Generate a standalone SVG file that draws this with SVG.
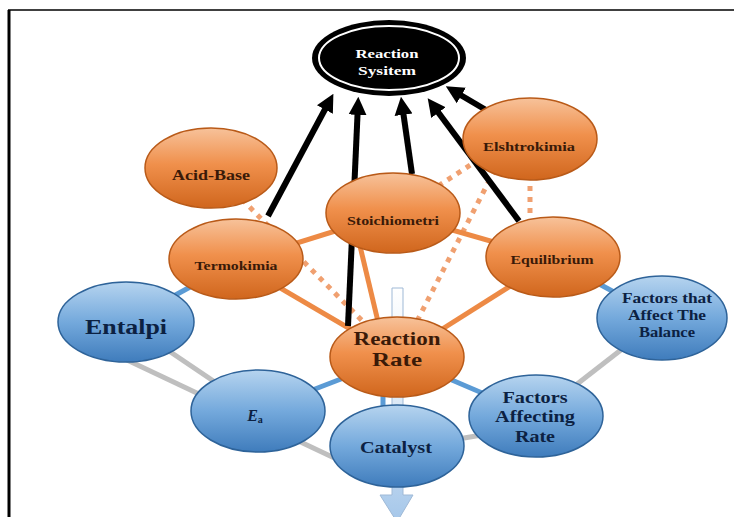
<svg xmlns="http://www.w3.org/2000/svg" width="734" height="517" viewBox="0 0 734 517">
<defs>
  <linearGradient id="og" x1="0" y1="0" x2="0" y2="1">
    <stop offset="0" stop-color="#f7c29a"/>
    <stop offset="0.45" stop-color="#f0904c"/>
    <stop offset="1" stop-color="#d0661d"/>
  </linearGradient>
  <linearGradient id="bg" x1="0" y1="0" x2="0" y2="1">
    <stop offset="0" stop-color="#b6d4ef"/>
    <stop offset="0.5" stop-color="#74a9dc"/>
    <stop offset="1" stop-color="#3f7cbc"/>
  </linearGradient>
  <linearGradient id="ag" gradientUnits="userSpaceOnUse" x1="0" y1="288" x2="0" y2="517">
    <stop offset="0" stop-color="#ffffff"/>
    <stop offset="0.5" stop-color="#dce9f6"/>
    <stop offset="1" stop-color="#a7c8ea"/>
  </linearGradient>
  <marker id="ah" viewBox="0 0 10 10" refX="6" refY="5" markerUnits="userSpaceOnUse" markerWidth="18" markerHeight="20" orient="auto">
    <path d="M0,0 L10,5 L0,10 z" fill="#000"/>
  </marker>
  <style>
    .o ellipse{fill:url(#og);stroke:#b95a18;stroke-width:1.5}
    .b ellipse{fill:url(#bg);stroke:#2e6399;stroke-width:1.5}
    text{font-family:"Liberation Serif","Times New Roman",serif;font-weight:bold;text-anchor:middle}
    .o text{fill:#3a1a08}
    .b text{fill:#0c2142}
    .so{stroke:#ed8a45;stroke-width:5;fill:none}
    .do{stroke:#f0a070;stroke-width:5;stroke-dasharray:5 6;fill:none}
    .bl{stroke:#5b9bd5;stroke-width:5;fill:none}
    .gr{stroke:#bfbfbf;stroke-width:5;fill:none}
    .bk{stroke:#000;stroke-width:6;fill:none;marker-end:url(#ah)}
  </style>
</defs>
<rect width="734" height="517" fill="#fff"/>
<line x1="8" y1="10" x2="734" y2="10" stroke="#000" stroke-width="1.5"/>
<line x1="9" y1="10" x2="9" y2="517" stroke="#000" stroke-width="3"/>

<g id="connectors">
  <path d="M392,288 H403 V495 H413 L397,522 L380,495 H392 Z" fill="url(#ag)" stroke="#9fb9d6" stroke-width="1"/>
  <line class="gr" x1="126" y1="322" x2="258" y2="411"/>
  <line class="gr" x1="127" y1="360" x2="345" y2="463"/>
  <line class="gr" x1="440" y1="442" x2="500" y2="432"/>
  <line class="gr" x1="536" y1="416" x2="662" y2="318"/>
  <line class="bl" x1="236" y1="262" x2="126" y2="322"/>
  <line class="bl" x1="398" y1="357" x2="258" y2="411"/>
  <line class="bl" x1="383" y1="380" x2="383" y2="420"/>
  <line class="bl" x1="398" y1="357" x2="536" y2="416"/>
  <line class="bl" x1="553" y1="259" x2="662" y2="318"/>
  <line class="do" x1="211" y1="168" x2="398" y2="357"/>
  <line class="do" x1="505" y1="150" x2="415" y2="325"/>
  <line class="do" x1="420" y1="198" x2="490" y2="152"/>
  <line class="do" x1="530" y1="175" x2="530" y2="222"/>
  <line class="so" x1="236" y1="262" x2="393" y2="213"/>
  <line class="so" x1="393" y1="213" x2="553" y2="259"/>
  <line class="so" x1="236" y1="262" x2="398" y2="357"/>
  <line class="so" x1="355" y1="225" x2="380" y2="330"/>
  <line class="so" x1="553" y1="259" x2="398" y2="357"/>
  <line class="bk" x1="268" y1="216" x2="330" y2="100"/>
  <line class="bk" x1="348" y1="326" x2="358" y2="104"/>
  <line class="bk" x1="412" y1="174" x2="402" y2="104"/>
  <line class="bk" x1="519" y1="221" x2="432" y2="104"/>
  <line class="bk" x1="486" y1="110" x2="452" y2="90"/>
</g>

<g id="reaction-system">
  <ellipse cx="389" cy="58" rx="77" ry="38" fill="#000"/>
  <ellipse cx="389" cy="58" rx="70" ry="32" fill="none" stroke="#fff" stroke-width="2"/>
  <text x="387" y="58" font-size="13" fill="#fff" textLength="63" lengthAdjust="spacingAndGlyphs">Reaction</text>
  <text x="387" y="75" font-size="13" fill="#fff" textLength="58" lengthAdjust="spacingAndGlyphs">Sysitem</text>
</g>
<g id="acid-base" class="o">
  <ellipse cx="211" cy="168" rx="66" ry="40"/>
  <text x="211" y="180" font-size="15" textLength="78" lengthAdjust="spacingAndGlyphs">Acid-Base</text>
</g>
<g id="elshtrokimia" class="o">
  <ellipse cx="530" cy="139" rx="67" ry="41"/>
  <text x="529" y="151" font-size="13" textLength="92" lengthAdjust="spacingAndGlyphs">Elshtrokimia</text>
</g>
<g id="stoichiometri" class="o">
  <ellipse cx="393" cy="213" rx="67" ry="40"/>
  <text x="393" y="225" font-size="13" textLength="92" lengthAdjust="spacingAndGlyphs">Stoichiometri</text>
</g>
<g id="termokimia" class="o">
  <ellipse cx="236" cy="259" rx="67" ry="40"/>
  <text x="236" y="270" font-size="13" textLength="83" lengthAdjust="spacingAndGlyphs">Termokimia</text>
</g>
<g id="equilibrium" class="o">
  <ellipse cx="553" cy="257" rx="67" ry="40"/>
  <text x="552" y="264" font-size="13" textLength="83" lengthAdjust="spacingAndGlyphs">Equilibrium</text>
</g>
<g id="reaction-rate" class="o">
  <ellipse cx="397" cy="357" rx="67" ry="40"/>
  <text x="397" y="345" font-size="19" textLength="87" lengthAdjust="spacingAndGlyphs">Reaction</text>
  <text x="397" y="366" font-size="19" textLength="50" lengthAdjust="spacingAndGlyphs">Rate</text>
</g>
<g id="entalpi" class="b">
  <ellipse cx="126" cy="322" rx="68" ry="40"/>
  <text x="126" y="334" font-size="20" textLength="82" lengthAdjust="spacingAndGlyphs">Entalpi</text>
</g>
<g id="ea" class="b">
  <ellipse cx="258" cy="411" rx="67" ry="41"/>
  <text x="255" y="421" font-size="16"><tspan font-style="italic">E</tspan><tspan font-size="10" dy="2">a</tspan></text>
</g>
<g id="catalyst" class="b">
  <ellipse cx="397" cy="446" rx="67" ry="41"/>
  <text x="396" y="453" font-size="17" textLength="72" lengthAdjust="spacingAndGlyphs">Catalyst</text>
</g>
<g id="factors-affecting-rate" class="b">
  <ellipse cx="536" cy="416" rx="67" ry="41"/>
  <text x="535" y="403" font-size="16" textLength="65" lengthAdjust="spacingAndGlyphs">Factors</text>
  <text x="535" y="422" font-size="16" textLength="80" lengthAdjust="spacingAndGlyphs">Affecting</text>
  <text x="535" y="442" font-size="16" textLength="40" lengthAdjust="spacingAndGlyphs">Rate</text>
</g>
<g id="factors-balance" class="b">
  <ellipse cx="662" cy="318" rx="65" ry="42"/>
  <text x="667" y="303" font-size="14" textLength="90" lengthAdjust="spacingAndGlyphs">Factors that</text>
  <text x="667" y="320" font-size="14" textLength="78" lengthAdjust="spacingAndGlyphs">Affect The</text>
  <text x="667" y="337" font-size="14" textLength="56" lengthAdjust="spacingAndGlyphs">Balance</text>
</g>
</svg>
